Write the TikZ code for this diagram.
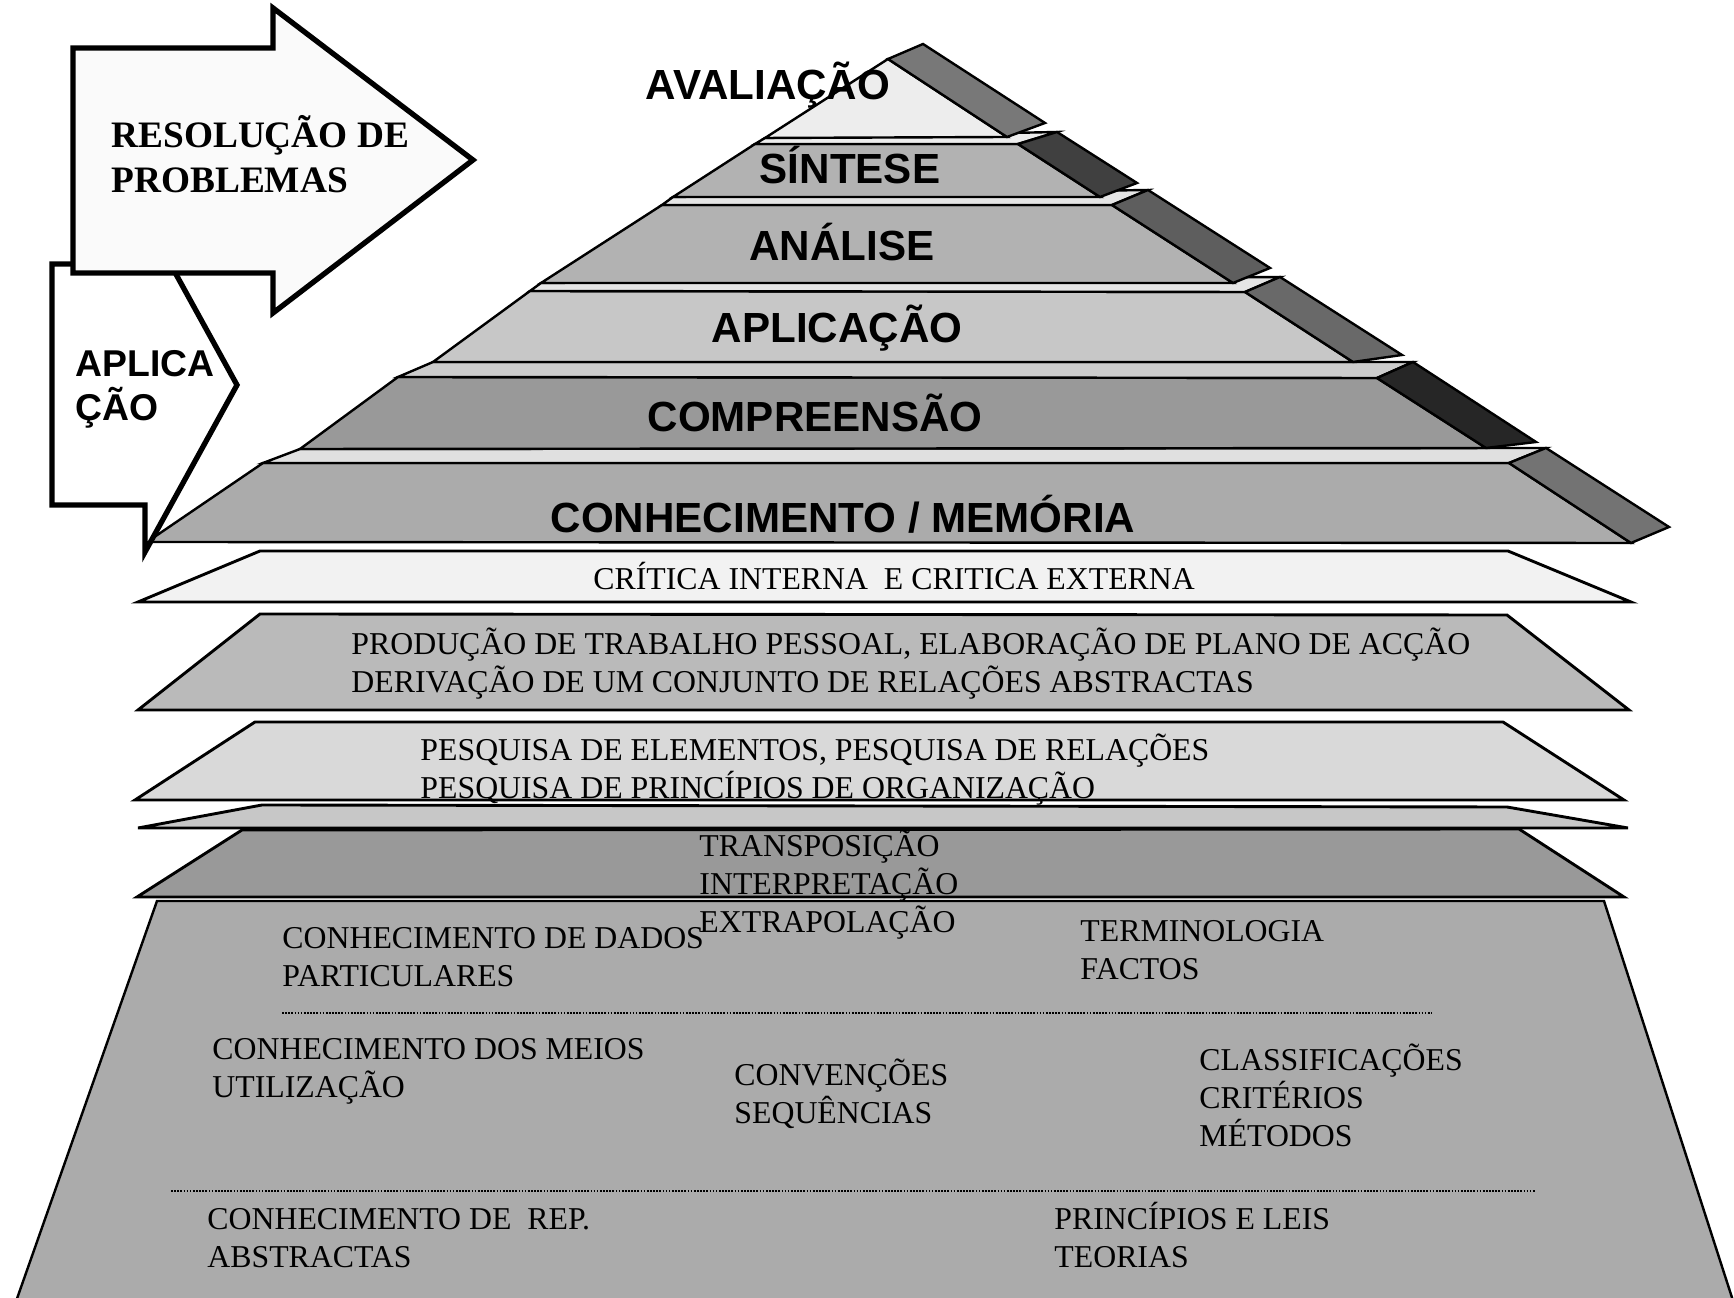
\documentclass[tikz,border=0pt]{standalone}
\usepackage{fontspec}
\setmainfont{Liberation Serif}
\setsansfont{Liberation Sans}

\begin{document}
\begin{tikzpicture}[x=0.41522pt,y=-0.41522pt]
\tikzstyle{slab} = [draw, line width=1pt]
\tikzstyle{band} = [draw, line width=1.2pt]
\tikzstyle{blockarrow} = [draw, line width=2.2pt]
\tikzstyle{separator} = [line width=0.9pt, dash pattern=on 0.7pt off 0.6pt]
\tikzstyle{levelname} = [font=\sffamily\bfseries\fontsize{17.5}{21}\selectfont, inner sep=0pt, anchor=base]
\tikzstyle{itemtext} = [font=\fontsize{13.2}{15.8}\selectfont, align=left, inner sep=0pt, anchor=base west]
\tikzstyle{arrowtext} = [font=\bfseries\fontsize{15.5}{19}\selectfont, align=left, inner sep=0pt, anchor=base west]
\tikzstyle{sidetext} = [font=\sffamily\bfseries\fontsize{15.5}{18.5}\selectfont, align=left, inner sep=0pt, anchor=base west]

\useasboundingbox (0,0) rectangle (1734,1298);

\filldraw [slab, fill=black!33] (157,901) -- (1604,901) -- (1736,1310) -- (13,1310) -- cycle;
\draw [separator] (282,1013) -- (1432,1013);
\draw [separator] (171,1191) -- (1535,1191);

\filldraw [band, fill=black!40] (137,897) -- (1624,897) -- (1519,829) -- (242,830) -- cycle;
\filldraw [band, fill=black!22] (138,828) -- (1628,828) -- (1507,807) -- (262,805) -- cycle;
\filldraw [band, fill=black!15] (135,800) -- (1624,800) -- (1503,722) -- (255,722) -- cycle;
\filldraw [band, fill=black!27] (138,710) -- (1629,710) -- (1507,615) -- (260,614) -- cycle;
\filldraw [band, fill=black!5] (138,602) -- (1631,602) -- (1508,551) -- (260,551) -- cycle;

\filldraw [slab, fill=black!33] (147,542) -- (1631,543) -- (1509,463) -- (263,463) -- cycle;
\filldraw [slab, fill=black!12] (263,463) -- (1509,463) -- (1546,448) -- (300,449) -- cycle;
\filldraw [slab, fill=black!55] (1509,463) -- (1546,448) -- (1669,527) -- (1631,543) -- cycle;

\filldraw [slab, fill=black!40] (300,449) -- (1486,448) -- (1377,378) -- (398,377) -- cycle;
\filldraw [slab, fill=black!20] (398,377) -- (1377,378) -- (1413,362) -- (433,362) -- cycle;
\filldraw [slab, fill=black!85] (1377,378) -- (1413,362) -- (1536,442) -- (1486,448) -- cycle;

\filldraw [slab, fill=black!22] (433,362) -- (1353,362) -- (1245,292) -- (530,291) -- cycle;
\filldraw [slab, fill=black!10] (530,291) -- (1245,292) -- (1280,277) -- (541,283) -- cycle;
\filldraw [slab, fill=black!59] (1245,292) -- (1280,277) -- (1402,355) -- (1353,362) -- cycle;

\filldraw [slab, fill=black!30] (541,283) -- (1233,283) -- (1112,205) -- (662,205) -- cycle;
\filldraw [slab, fill=black!10] (662,205) -- (1112,205) -- (1148,190) -- (673,197) -- cycle;
\filldraw [slab, fill=black!63] (1112,205) -- (1148,190) -- (1270,268) -- (1233,283) -- cycle;

\filldraw [slab, fill=black!30] (673,197) -- (1100,197) -- (1018,144) -- (755,144) -- cycle;
\filldraw [slab, fill=black!7] (755,144) -- (1018,144) -- (1057,132) -- (765,138) -- cycle;
\filldraw [slab, fill=black!75] (1018,144) -- (1057,132) -- (1137,183) -- (1100,197) -- cycle;

\filldraw [slab, fill=black!7] (765,138) -- (1007,137) -- (888,59) -- cycle;
\filldraw [slab, fill=black!53] (888,59) -- (923,44) -- (1045,123) -- (1007,137) -- cycle;

\filldraw [blockarrow, fill=white] (52,264) -- (145,264) -- (145,218) -- (237,385) -- (145,552) -- (145,505) -- (52,505) -- cycle;
\filldraw [blockarrow, fill=black!2] (73,48) -- (273,48) -- (273,8) -- (473,160) -- (273,313) -- (273,273) -- (73,273) -- cycle;

\node [levelname] (aval) at (768,100) {AVALIAÇÃO};
\node [levelname] (sint) at (850,184) {SÍNTESE};
\node [levelname] (anal) at (842,261) {ANÁLISE};
\node [levelname] (aplic) at (837,343) {APLICAÇÃO};
\node [levelname] (compr) at (815,432) {COMPREENSÃO};
\node [levelname] (conhec) at (843,533) {CONHECIMENTO / MEMÓRIA};

\node [arrowtext] (resol) at (111,193) {RESOLUÇÃO DE\\PROBLEMAS};
\node [sidetext] (aplicacao) at (75,421) {APLICA\\ÇÃO};

\node [itemtext] (crit) at (593,590) {CRÍTICA INTERNA\ \ E CRITICA EXTERNA};
\node [itemtext] (prod) at (351,693) {PRODUÇÃO DE TRABALHO PESSOAL, ELABORAÇÃO DE PLANO DE ACÇÃO\\DERIVAÇÃO DE UM CONJUNTO DE RELAÇÕES ABSTRACTAS};
\node [itemtext] (pesq) at (420,799) {PESQUISA DE ELEMENTOS, PESQUISA DE RELAÇÕES\\PESQUISA DE PRINCÍPIOS DE ORGANIZAÇÃO};
\node [itemtext] (transp) at (699,933) {TRANSPOSIÇÃO\\INTERPRETAÇÃO\\EXTRAPOLAÇÃO};
\node [itemtext] (dados) at (282,987) {CONHECIMENTO DE DADOS\\PARTICULARES};
\node [itemtext] (termin) at (1080,980) {TERMINOLOGIA\\FACTOS};
\node [itemtext] (meios) at (212,1098) {CONHECIMENTO DOS MEIOS\\UTILIZAÇÃO};
\node [itemtext] (conv) at (734,1124) {CONVENÇÕES\\SEQUÊNCIAS};
\node [itemtext] (classif) at (1199,1147) {CLASSIFICAÇÕES\\CRITÉRIOS\\MÉTODOS};
\node [itemtext] (rep) at (207,1268) {CONHECIMENTO DE\ \ REP.\\ABSTRACTAS};
\node [itemtext] (princ) at (1054,1268) {PRINCÍPIOS E LEIS\\TEORIAS};
\end{tikzpicture}
\end{document}
